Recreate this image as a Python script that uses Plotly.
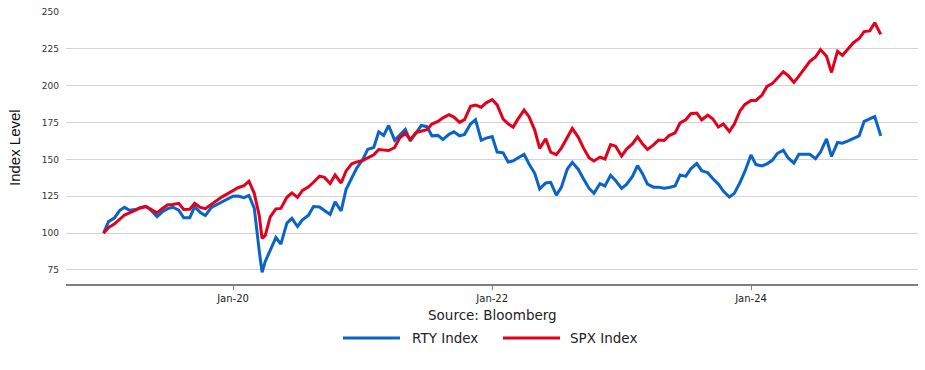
import plotly.graph_objects as go

# Semi-monthly observation dates (plus the March 2020 trough week)
dates = []
for yr in range(2019, 2025):
    for mo in range(1, 13):
        dates.append(f"{yr}-{mo:02d}-01")
        dates.append(f"{yr}-{mo:02d}-15")
dates.append("2025-01-01")
dates.insert(dates.index("2020-03-15") + 1, "2020-03-23")

rty = [
    100, 107.8, 110.4, 115.3, 117.5, 115.5, 116, 117.5, 118.1, 115.4,
    111.2, 114.3, 116.6, 117.6, 115.6, 110.4, 110.5, 118, 114, 111.9,
    117.4, 119.1, 121.2, 122.8, 125, 125.2, 124.1, 125.6, 117, 88,
    73.5,
    80.8, 88.4, 97, 92.5, 106.8, 110, 104.5, 109, 112.2, 118,
    117.7, 115.3, 112.7, 121.2, 115, 129.8, 138, 144.1, 149.9, 156.8,
    158.1, 168.7, 166.2, 173, 163, 166.8, 170.4, 162.5, 168, 173,
    172.2, 166, 166.3, 163.5, 167, 168.7, 166, 167, 174, 177,
    163, 164.5, 165.5, 155, 154.5, 148.2, 149, 151.3, 153.5, 146.9,
    140.6, 130, 134, 134.5, 125.8, 131, 143.5, 148, 143.2, 137,
    130.5, 127, 133.6, 132, 139.2, 135.7, 130.3, 133, 138.6, 145.8,
    140.3, 133.2, 131.2, 131.2, 130.5, 131, 132, 139.5, 138.5, 143.6,
    147.2, 142.4, 141, 137, 133.3, 128.5, 124.5, 127, 134.3, 142,
    153, 146.5, 145.6, 147, 149.4, 154, 156.3, 151, 147.5, 153.5,
    153.7, 153.5, 150.5, 155, 164, 152, 161.5, 161, 162.6, 164.3,
    166, 175.8, 177.5, 179, 166,
]

spx = [
    100, 103.8, 106.3, 109.5, 112.3, 113.7, 115.5, 117.1, 118, 116.2,
    113.8, 116.6, 119.3, 119.4, 120.2, 116, 116.2, 120.3, 117.5, 116.6,
    119.6, 121.8, 124.6, 126.5, 128.8, 130.8, 132.2, 135.2, 127, 112,
    96.5,
    98.5, 111, 116.5, 116.8, 124.3, 127.3, 124.3, 129, 131.4, 134.5,
    138.7, 137.8, 133.7, 139.4, 134, 142.2, 147, 148.3, 149.2, 151.1,
    153.1, 156.7, 156.6, 156, 158.1, 164.5, 167.9, 163.5, 168.3, 169.3,
    170.2, 174, 175.8, 178.2, 180.4, 178.7, 175.1, 177, 186, 186.9,
    185.4, 188.4, 190.6, 187, 177.4, 174.2, 171.9, 177.5, 183.5, 179,
    169.9, 157.5, 164, 155, 153.3, 157.7, 165.4, 171, 165, 158,
    151.2, 149, 151.6, 150.3, 160, 159, 152.3, 157, 160.7, 165.3,
    160.6, 156.8, 159.9, 163.1, 162.8, 166.2, 168, 174.8, 176.9, 181,
    181.5, 176.9, 180, 177.6, 172, 174, 169, 174, 183, 187.3,
    190, 190, 193.6, 199.5, 201.4, 205.3, 209.5, 206.8, 202.2, 206.5,
    212, 216.5, 219.5, 224.5, 220, 209, 223.3, 220.6, 225, 229,
    232, 236.7, 237.2, 242.7, 234.8,
]

series_names = ["RTY Index", "SPX Index"]
series_colors = ["#0a63c9", "#e3001b"]

y_ticks = [75, 100, 125, 150, 175, 200, 225, 250]
x_tickvals = ["2020-01-01", "2022-01-01", "2024-01-01"]
x_ticktext = ["Jan-20", "Jan-22", "Jan-24"]

fig = go.Figure()
for name, vals, col in zip(series_names, [rty, spx], series_colors):
    fig.add_trace(go.Scatter(x=dates, y=vals, mode="lines", name=name,
                             line=dict(color=col, width=3)))

fig.update_layout(
    width=925, height=370,
    margin=dict(l=66, r=7, t=7, b=86),
    paper_bgcolor="white", plot_bgcolor="white",
    showlegend=False,
    font=dict(family="DejaVu Sans", color="#222"),
    xaxis=dict(
        type="date", range=["2018-09-17", "2025-04-16"],
        tickvals=x_tickvals, ticktext=x_ticktext,
        ticks="outside", ticklen=4, tickcolor="#808080", tickwidth=1,
        showline=True, linecolor="#7f7f7f", linewidth=2,
        showgrid=False, zeroline=False,
        tickfont=dict(size=10, color="#222", family="DejaVu Sans"),
    ),
    yaxis=dict(
        range=[65.5, 250], tickvals=y_ticks,
        showgrid=True, gridcolor="#d4d4d4", gridwidth=1.3,
        zeroline=False, showline=False, ticks="",
        ticklabelstandoff=6,
        tickfont=dict(size=9, color="#333", family="DejaVu Sans"),
    ),
)

# Y-axis title
fig.add_annotation(xref="paper", yref="paper", x=-0.061, y=0.5,
                   text="Index Level", textangle=-90, showarrow=False,
                   xanchor="center", yanchor="middle",
                   font=dict(family="Liberation Sans Narrow, Liberation Sans", size=15, color="#111"))
# Source note
fig.add_annotation(xref="paper", yref="paper", x=0.5, y=-0.1155,
                   text="Source: Bloomberg", showarrow=False,
                   xanchor="center", yanchor="middle",
                   font=dict(family="DejaVu Sans", size=13.5, color="#222"))

# Legend (drawn manually to match long line swatches)
leg_line_x = [(0.3251, 0.392), (0.5129, 0.5798)]
leg_text_x = [0.4038, 0.5892]
leg_y = -0.1986
for name, col, (x0, x1), tx in zip(series_names, series_colors, leg_line_x, leg_text_x):
    fig.add_shape(type="line", xref="paper", yref="paper", x0=x0, x1=x1,
                  y0=leg_y, y1=leg_y, line=dict(color=col, width=3))
    fig.add_annotation(xref="paper", yref="paper", x=tx, y=leg_y, text=name,
                       showarrow=False, xanchor="left", yanchor="middle",
                       font=dict(family="DejaVu Sans", size=13.5, color="#222"))

fig.write_html("out.html", config={"displayModeBar": False},
               post_script="document.body.style.margin='0';document.body.style.padding='0';")
